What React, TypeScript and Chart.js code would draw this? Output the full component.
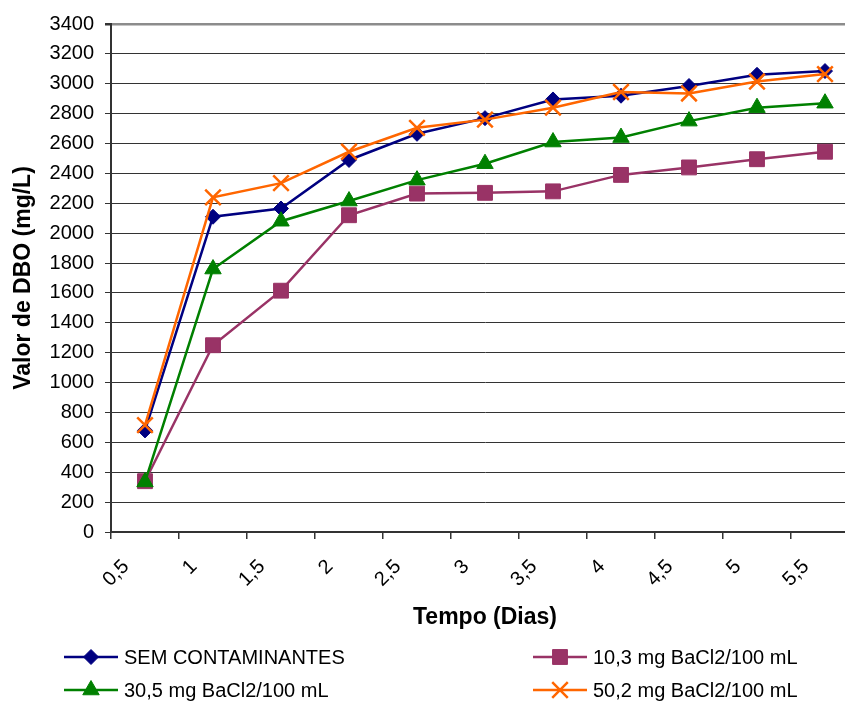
import React, { useEffect, useRef } from 'react';
import { Chart, registerables } from 'chart.js';
import { drawPoint } from 'chart.js/helpers';

Chart.register(...registerables);

// Tempo (dias) – categorias do eixo X
const dias = ['0,5', '1', '1,5', '2', '2,5', '3', '3,5', '4', '4,5', '5', '5,5'];

// Valor de DBO (mg/L) por série
const semContaminantes = [680, 2110, 2165, 2490, 2665, 2770, 2895, 2920, 2985, 3060, 3085];
const bacl10 = [340, 1250, 1615, 2120, 2265, 2270, 2280, 2390, 2440, 2495, 2545];
const bacl30 = [335, 1760, 2080, 2215, 2355, 2465, 2610, 2640, 2750, 2840, 2870];
const bacl50 = [715, 2240, 2335, 2545, 2705, 2760, 2840, 2945, 2935, 3015, 3065];

const Y_MIN = 0;
const Y_MAX = 3400;
const Y_STEP = 200;

const FONT = '"Liberation Sans", Arial, Helvetica, sans-serif';
const CANVAS_W = 879;
const CANVAS_H = 702;

// Legend grid (two columns, two rows) below the plot
const LEGEND_COLS = [64, 533];
const LEGEND_ROWS = [657, 690];
const LEGEND_LINE = 54;

const gridLegend = {
  id: 'gridLegend',
  afterDraw(chart: any) {
    const ctx = chart.ctx as CanvasRenderingContext2D;
    ctx.save();
    chart.data.datasets.forEach((ds: any, i: number) => {
      const x = LEGEND_COLS[i % 2];
      const y = LEGEND_ROWS[Math.floor(i / 2)];
      ctx.strokeStyle = ds.borderColor;
      ctx.lineWidth = ds.borderWidth;
      ctx.beginPath();
      ctx.moveTo(x, y);
      ctx.lineTo(x + LEGEND_LINE, y);
      ctx.stroke();
      ctx.fillStyle = ds.pointBackgroundColor;
      ctx.strokeStyle = ds.pointBorderColor;
      ctx.lineWidth = ds.pointBorderWidth;
      drawPoint(
        ctx,
        { pointStyle: ds.pointStyle, rotation: 0, radius: ds.pointRadius, borderWidth: ds.pointBorderWidth },
        x + LEGEND_LINE / 2,
        y
      );
      ctx.fillStyle = '#000';
      ctx.font = `20px ${FONT}`;
      ctx.textAlign = 'left';
      ctx.textBaseline = 'middle';
      ctx.fillText(ds.label, x + LEGEND_LINE + 6, y + 1);
    });
    ctx.restore();
  },
};

// Later series are painted over earlier ones
function serie(label: string, data: number[], color: string, style: string, radius: number, bw: number, order: number) {
  return {
    label,
    data,
    order,
    borderColor: color,
    backgroundColor: color,
    borderWidth: 2.5,
    pointStyle: style,
    pointRadius: radius,
    pointHoverRadius: radius,
    pointBackgroundColor: color,
    pointBorderColor: color,
    pointBorderWidth: bw,
    tension: 0,
  };
}

export default function App() {
  const ref = useRef<HTMLCanvasElement | null>(null);

  useEffect(() => {
    if (!ref.current) return;
    const chart = new Chart(ref.current, {
      type: 'line',
      data: {
        labels: dias,
        datasets: [
          serie('SEM CONTAMINANTES', semContaminantes, '#000080', 'rectRot', 7.5, 1, 3),
          serie('10,3 mg BaCl2/100 mL', bacl10, '#993366', 'rect', 10.5, 1, 2),
          serie('30,5 mg BaCl2/100 mL', bacl30, '#008000', 'triangle', 9.5, 1, 1),
          serie('50,2 mg BaCl2/100 mL', bacl50, '#FF6600', 'crossRot', 11, 2.5, 0),
        ] as any,
      },
      options: {
        responsive: false,
        animation: false,
        devicePixelRatio: 1,
        layout: { padding: { left: 0, right: 20, top: 24, bottom: 70 } },
        plugins: {
          legend: { display: false },
          tooltip: { enabled: false },
        },
        scales: {
          x: {
            type: 'category',
            offset: true,
            afterFit: (s: any) => {
              s.height = 100;
            },
            grid: {
              offset: true,
              drawOnChartArea: false,
              drawTicks: true,
              tickLength: 7,
              color: '#333',
              lineWidth: 1.5,
            },
            border: { color: '#333', width: 2 },
            ticks: {
              maxRotation: 45,
              minRotation: 45,
              color: '#000',
              padding: 16,
              labelOffset: -19,
              font: { family: FONT, size: 20 },
            },
            title: {
              display: true,
              text: 'Tempo (Dias)',
              color: '#000',
              font: { family: FONT, size: 23, weight: 'bold' },
              padding: { top: 0, bottom: 1 },
            },
          },
          y: {
            min: Y_MIN,
            max: Y_MAX,
            afterFit: (s: any) => {
              s.width = 111;
            },
            grid: {
              color: (c: any) => (c.tick && c.tick.value === Y_MAX ? '#8c8c8c' : '#333'),
              lineWidth: (c: any) => (c.tick && c.tick.value === Y_MAX ? 2.5 : 1),
              tickColor: '#333',
              tickLength: 6,
            },
            border: { color: '#333', width: 2 },
            ticks: {
              stepSize: Y_STEP,
              color: '#000',
              padding: 11,
              font: { family: FONT, size: 20 },
              callback: (v: any) => String(v),
            },
            title: {
              display: true,
              text: 'Valor de DBO (mg/L)',
              color: '#000',
              font: { family: FONT, size: 23, weight: 'bold' },
              padding: { top: 10, bottom: 0 },
            },
          },
        },
      } as any,
      plugins: [gridLegend],
    });
    return () => chart.destroy();
  }, []);

  return (
    <div
      style={{
        position: 'fixed',
        left: 0,
        top: 0,
        width: 845,
        height: 702,
        overflow: 'hidden',
        background: '#fff',
      }}
    >
      <canvas ref={ref} width={CANVAS_W} height={CANVAS_H} style={{ display: 'block', width: CANVAS_W, height: CANVAS_H }} />
    </div>
  );
}
